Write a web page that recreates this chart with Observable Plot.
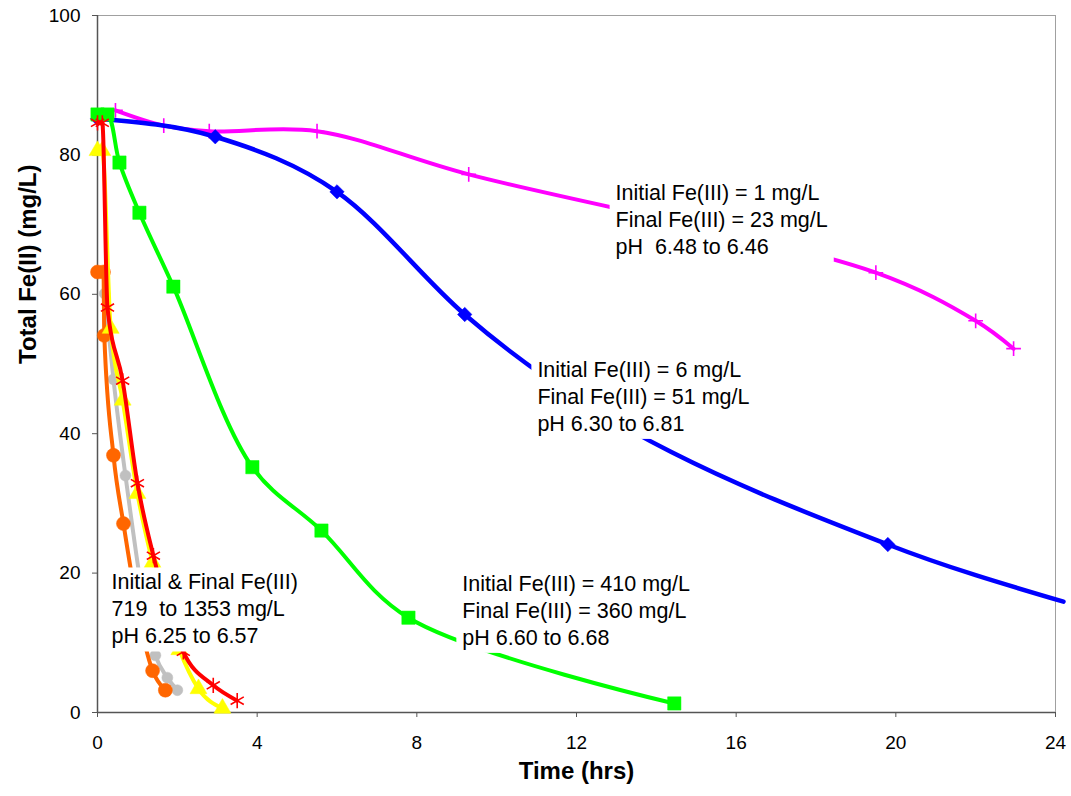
<!DOCTYPE html>
<html><head><meta charset="utf-8">
<script src="https://cdn.jsdelivr.net/npm/d3@7"></script>
<script src="https://cdn.jsdelivr.net/npm/@observablehq/plot@0.6"></script>
<style>body{margin:0;background:#fff} svg{display:block}</style>
</head><body><div id="chart"></div>
<script>
// ---- Data (Time in hours, Total Fe(II) in mg/L) ----
const magentaT = [0.45, 1.66, 2.8, 5.5, 9.3, 19.5, 22.0, 22.95];
const magentaV = [86.4, 84.2, 83.4, 83.4, 77.2, 63.1, 56.2, 52.2];
const blueT = [0, 2.95, 6.0, 9.2, 19.8, 24.2];
const blueV = [85.2, 82.6, 74.7, 57.1, 24.1, 15.9];
const greenT = [0, 0.25, 0.55, 1.05, 1.9, 3.88, 5.61, 7.79, 14.45];
const greenV = [85.8, 85.8, 78.9, 71.7, 61.1, 35.2, 26.1, 13.6, 1.3];
const grayT = [0.18, 0.4, 0.7, 1.45, 1.75, 2.0];
const grayV = [60.1, 47.8, 34.0, 8.2, 5.0, 3.2];
const orangeT = [0, 0.15, 0.17, 0.4, 0.65, 1.38, 1.7];
const orangeV = [63.2, 63.2, 54.1, 36.9, 27.1, 6.0, 3.2];
const yellowT = [0, 0.12, 0.33, 0.63, 1.0, 1.38, 2.05, 2.53, 3.13];
const yellowV = [80.6, 80.6, 55.1, 44.8, 31.4, 21.5, 9.0, 3.4, 0.6];
const redT = [0, 0.12, 0.25, 0.63, 1.0, 1.4, 2.15, 2.9, 3.5];
const redV = [84.6, 84.6, 58.1, 47.6, 32.9, 22.5, 8.7, 3.9, 1.7];

const xTicks = [0, 4, 8, 12, 16, 20, 24];
const yTicks = [0, 20, 40, 60, 80, 100];

const annotX = [12.98, 11.02, 9.14, 0.35];
const annotY = [76.3, 50.9, 20.2, 20.4];
const annotText = [
  "Initial Fe(III) = 1 mg/L\nFinal Fe(III) = 23 mg/L\npH  6.48 to 6.46",
  "Initial Fe(III) = 6 mg/L\nFinal Fe(III) = 51 mg/L\npH 6.30 to 6.81",
  "Initial Fe(III) = 410 mg/L\nFinal Fe(III) = 360 mg/L\npH 6.60 to 6.68",
  "Initial & Final Fe(III)\n719  to 1353 mg/L\npH 6.25 to 6.57"
];

// ---- Styles ----
const series = [
  {t: magentaT, v: magentaV, color: "#FF00FF", symbol: "plus", r: 4.8, sw: 4, curve: "catmull-rom"},
  {t: blueT, v: blueV, color: "#0000FF", symbol: "diamond2", r: 6.5, sw: 4.5, fill: true, curve: "monotone-x"},
  {t: greenT, v: greenV, color: "#00FF00", symbol: "square", r: 7.5, sw: 4, fill: true, curve: "catmull-rom"},
  {t: grayT, v: grayV, color: "#C0C0C0", symbol: "circle", r: 5.5, sw: 4, fill: true, curve: "monotone-x"},
  {t: orangeT, v: orangeV, color: "#FF6600", symbol: "circle", r: 7, sw: 4, fill: true, curve: "monotone-x"},
  {t: yellowT, v: yellowV, color: "#FFFF00", symbol: "triangle", r: 6.3, sw: 4, fill: true, curve: "monotone-x"},
  {t: redT, v: redV, color: "#FF0000", symbol: "asterisk", r: 7.2, sw: 4, curve: "monotone-x"}
];

const marks = [
  Plot.frame({stroke: "#a0a0a0"}),
  Plot.axisX({ticks: xTicks, tickSize: 5, tickPadding: 18, fontSize: 19, label: null, stroke: "#555"}),
  Plot.axisY({ticks: yTicks, tickSize: 5, tickPadding: 12, fontSize: 19, label: null, stroke: "#555"}),
  Plot.ruleX([0], {stroke: "#555", strokeWidth: 1.5}),
  Plot.ruleY([0], {stroke: "#555", strokeWidth: 1.5})
];

for (const s of series) {
  const rows = s.t.map((t, i) => ({t, v: s.v[i]}));
  marks.push(Plot.line(rows, {x: "t", y: "v", stroke: s.color, strokeWidth: s.sw, curve: s.curve}));
  const pts = rows.filter(d => d.t <= 24);
  marks.push(Plot.dot(pts, s.fill
    ? {x: "t", y: "v", symbol: () => s.symbol, r: s.r, fill: s.color, stroke: s.color, strokeWidth: 0.5}
    : {x: "t", y: "v", symbol: () => s.symbol, r: s.r, stroke: s.color, strokeWidth: 1.6, fill: "none"}));
}

const annot = annotText.map((text, i) => ({x: annotX[i], y: annotY[i], text}));
marks.push(Plot.text(annot, {x: "x", y: "y", text: "text", textAnchor: "start", lineAnchor: "top",
  fontSize: 21.5, lineHeight: 1.256, fill: "#000", ariaDescription: "annotations"}));
marks.push(Plot.text(["Time (hrs)"], {text: d => d, frameAnchor: "bottom", dy: 66, fontSize: 24, fontWeight: "bold", fill: "#000"}));
marks.push(Plot.text(["Total Fe(II) (mg/L)"], {text: d => d, frameAnchor: "left", dx: -69, rotate: -90, fontSize: 24, fontWeight: "bold", fill: "#000"}));

const plot = Plot.plot({
  width: 1071, height: 796,
  marginLeft: 97, marginRight: 16, marginTop: 15, marginBottom: 84,
  style: {fontFamily: "'Liberation Sans', Arial, sans-serif", background: "#fff", color: "#000"},
  x: {domain: [0, 24]},
  y: {domain: [0, 100]},
  symbol: {type: "identity"},
  marks
});
document.getElementById("chart").appendChild(plot);

// white boxes behind annotation text (sized from the rendered text)
const g = plot.querySelector('g[aria-description="annotations"]');
if (g) {
  const texts = Array.from(g.querySelectorAll("text"));
  const first = g.firstChild;
  for (const t of texts) {
    const b = t.getBBox();
    const r = document.createElementNS("http://www.w3.org/2000/svg", "rect");
    r.setAttribute("x", b.x - 6);
    r.setAttribute("y", b.y - 3);
    r.setAttribute("width", b.width + 12);
    r.setAttribute("height", b.height + 6);
    r.setAttribute("fill", "#fff");
    r.setAttribute("stroke", "none");
    if (t.getAttribute("transform")) r.setAttribute("transform", t.getAttribute("transform"));
    g.insertBefore(r, first);
  }
}
</script>
</body></html>
